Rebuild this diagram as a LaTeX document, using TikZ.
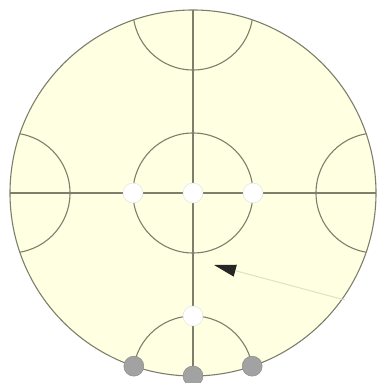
\documentclass[tikz,border=0pt]{standalone}
\usepackage{tikz}
\usepackage{xcolor}
\usetikzlibrary{arrows.meta, positioning, calc}

\definecolor{paper}{HTML}{FFFFE2}
\definecolor{rim}{HTML}{7E7E6C}
\definecolor{dotgray}{HTML}{A2A2A2}

\begin{document}
\begin{tikzpicture}[x=1pt, y=1pt,
  every node/.style={inner sep=0pt},
  rimline/.style={draw=rim, line width=1.1pt},
  hole/.style={circle, fill=white, draw=white!88!black, line width=0.4pt, minimum size=20pt},
  peg/.style={circle, fill=dotgray, draw=black!45, line width=0.5pt, minimum size=20pt}
]
\useasboundingbox (0,0) rectangle (377,383);
\def\R{183} \def\r{60}
\coordinate (O) at (193,190);
\coordinate (top) at ($(O)+(90:\R)$);
\coordinate (bot) at ($(O)+(270:\R)$);
\coordinate (lft) at ($(O)+(180:\R)$);
\coordinate (rgt) at ($(O)+(0:\R)$);
% disc and cross
\fill[paper] (O) circle (\R);
\draw[rimline] (top) -- (bot);
\draw[rimline] (lft) -- (rgt);
% arcs of radius R/3
\begin{scope}
  \clip (O) circle (\R);
  \foreach \c in {O,top,lft,rgt,bot}{
    \draw[rimline] (\c) circle (\r);
  }
\end{scope}
\draw[rimline] (O) circle (\R);
% holes
\node[hole] (h1) at ($(O)+(-\r,0)$) {};
\node[hole] (h2) at (O) {};
\node[hole] (h3) at ($(O)+(\r,0)$) {};
\node[hole] (h4) at ($(bot)+(0,\r)$) {};
% pegs on the rim
\node[peg] (p1) at ($(O)+(251.13:\R)$) {};
\node[peg] (p2) at (bot) {};
\node[peg] (p3) at ($(O)+(288.87:\R)$) {};
% pointer
\coordinate (tail) at (345,83);
\coordinate (tip) at (214,118);
\draw[draw=paper!88!black, line width=1pt, -{Triangle[length=22pt, width=12pt, color=black!85]}] (tail) -- (tip);
\end{tikzpicture}
\end{document}
